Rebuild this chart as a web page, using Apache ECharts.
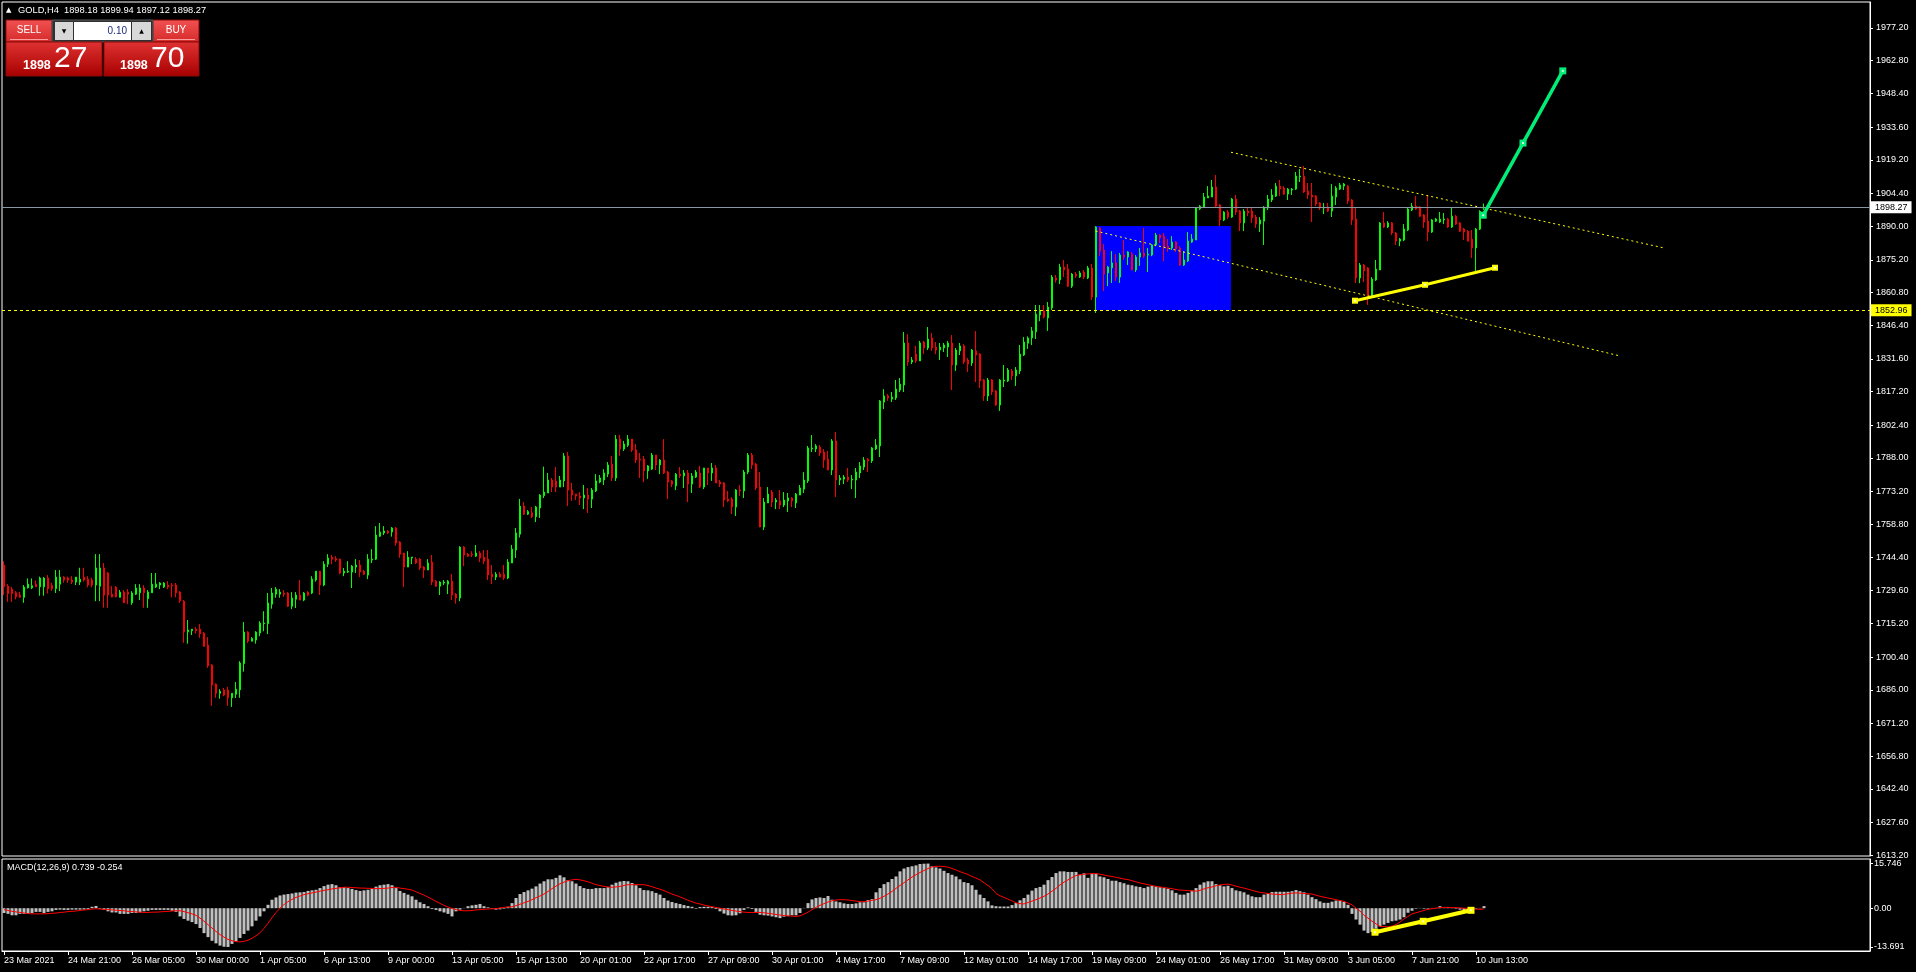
<!DOCTYPE html>
<html><head><meta charset="utf-8">
<script src="https://cdn.jsdelivr.net/npm/echarts@6/dist/echarts.min.js"></script>
<style>html,body{margin:0;padding:0;background:#000;overflow:hidden}#c{width:1916px;height:972px}</style>
</head><body><div id="c"></div>
<script>
// ---------------- data ----------------
const symbolName = 'GOLD,H4';
const headerOHLC = ['1898.18', '1899.94', '1897.12', '1898.27'];
const macdTitle = 'MACD(12,26,9) 0.739 -0.254';
const lotSize = '0.10';
const sellBig = '1898', sellSmall = '27', buyBig = '1898', buySmall = '70';

const open = [
1740.9,1731.6,1730.3,1728.7,1727.7,1726.7,1730.9,1730.9,1732.5,1731.3,
1731.3,1735.2,1731.9,1730.5,1732.5,1735.6,1735.2,1734.3,1733.4,1733.4,
1735.6,1734.7,1734.3,1732.1,1731.6,1739.6,1737.4,1728.1,1731.2,1726.7,
1729.0,1729.0,1724.3,1728.1,1728.7,1730.8,1726.1,1728.7,1731.2,1732.1,
1731.2,1732.1,1732.1,1732.1,1729.0,1725.0,1711.5,1712.0,1712.7,1712.7,
1710.9,1705.7,1696.9,1688.5,1684.5,1685.9,1685.9,1682.5,1684.1,1686.0,
1697.5,1711.4,1707.4,1707.9,1711.0,1715.1,1715.1,1723.7,1728.1,1728.1,
1728.6,1728.6,1722.8,1725.9,1727.7,1725.5,1729.0,1728.6,1734.3,1738.2,
1732.1,1741.3,1744.4,1743.7,1743.5,1737.4,1737.8,1737.8,1740.0,1740.9,
1738.2,1736.5,1743.1,1743.5,1753.6,1755.0,1755.9,1755.4,1757.2,1751.0,
1746.2,1740.0,1744.0,1743.5,1743.5,1740.0,1738.7,1742.2,1733.8,1731.6,
1733.0,1732.5,1733.8,1728.1,1726.4,1748.8,1745.7,1745.7,1744.8,1746.2,
1744.4,1743.5,1736.9,1735.6,1736.9,1736.9,1735.2,1741.8,1747.5,1754.5,
1766.9,1763.3,1763.9,1762.2,1766.0,1771.4,1772.6,1778.3,1777.9,1775.2,
1777.9,1788.9,1773.9,1772.1,1771.3,1770.4,1771.7,1769.9,1773.5,1777.4,
1778.3,1780.9,1785.3,1779.2,1796.3,1791.9,1793.6,1796.3,1791.5,1787.5,
1787.5,1782.3,1783.1,1789.3,1784.9,1787.1,1781.8,1777.9,1775.7,1780.9,
1780.1,1781.4,1776.5,1779.6,1781.4,1775.2,1783.6,1781.4,1783.6,1777.4,
1777.0,1769.9,1769.9,1766.4,1773.9,1773.5,1781.8,1789.3,1785.3,1775.2,
1757.6,1768.2,1773.0,1768.6,1769.1,1767.3,1769.1,1770.4,1768.2,1771.7,
1774.3,1777.9,1792.0,1792.0,1792.8,1790.6,1787.5,1782.7,1795.5,1778.3,
1778.7,1779.6,1778.3,1778.3,1781.4,1784.0,1787.5,1786.7,1792.0,1793.3,
1812.6,1815.3,1813.9,1814.4,1817.9,1820.1,1838.6,1830.2,1833.7,1830.7,
1839.0,1836.4,1840.8,1836.8,1835.5,1836.4,1836.8,1838.6,1828.9,1835.1,
1837.3,1831.1,1829.8,1835.1,1833.7,1822.3,1815.3,1822.3,1817.5,1811.3,
1821.9,1821.9,1826.3,1824.1,1826.3,1833.3,1838.5,1840.8,1843.5,1850.9,
1852.7,1849.6,1854.0,1867.2,1866.3,1872.0,1871.1,1863.6,1868.9,1867.6,
1869.8,1867.2,1871.6,1858.8,1889.2,1879.5,1869.4,1871.6,1873.8,1867.6,
1877.3,1876.4,1877.7,1870.7,1876.4,1878.2,1877.3,1877.3,1881.7,1886.1,
1885.6,1881.2,1880.4,1883.0,1880.4,1872.9,1874.7,1883.0,1883.9,1897.6,
1898.4,1902.4,1902.8,1907.2,1899.3,1892.7,1896.2,1894.0,1901.9,1896.6,
1891.4,1896.6,1896.6,1894.0,1890.9,1892.2,1898.0,1901.5,1903.2,1907.6,
1906.8,1904.1,1905.9,1906.3,1911.6,1912.0,1905.4,1903.7,1903.2,1900.2,
1898.0,1898.4,1896.6,1902.8,1906.3,1907.6,1907.6,1901.5,1893.1,1867.2,
1872.9,1871.6,1859.3,1866.3,1870.7,1891.4,1889.6,1891.4,1887.0,1883.4,
1883.9,1888.3,1897.1,1898.8,1898.4,1894.9,1892.2,1887.4,1892.2,1891.8,
1892.7,1893.1,1889.6,1894.4,1891.4,1888.7,1887.8,1884.3,1880.4,1888.7,
1898.18];
const high = [
1742.6,1732.5,1731.3,1729.4,1729.1,1732.1,1735.0,1735.0,1734.1,1735.8,
1735.6,1736.5,1733.1,1738.7,1738.7,1736.0,1735.8,1736.0,1735.6,1739.7,
1739.7,1736.0,1735.3,1745.7,1745.7,1741.8,1737.8,1731.6,1731.6,1729.9,
1729.9,1730.3,1729.4,1732.5,1732.5,1732.1,1729.9,1737.4,1737.4,1733.4,
1733.4,1733.8,1733.0,1733.0,1729.4,1725.5,1716.7,1712.7,1713.6,1714.9,
1711.4,1709.2,1697.3,1688.8,1686.3,1686.8,1687.3,1684.5,1689.4,1698.6,
1715.8,1711.8,1709.2,1711.8,1716.2,1720.6,1728.6,1730.8,1731.2,1730.3,
1729.9,1729.0,1729.0,1729.0,1734.3,1729.0,1729.4,1736.0,1738.2,1738.2,
1742.6,1745.7,1745.3,1744.8,1743.7,1739.6,1742.6,1740.9,1743.5,1743.1,
1738.7,1745.7,1747.9,1758.0,1759.4,1758.0,1756.3,1757.6,1757.6,1751.4,
1746.2,1747.0,1744.4,1744.4,1744.0,1740.4,1743.5,1745.3,1734.3,1733.8,
1734.3,1734.3,1736.9,1728.6,1749.2,1749.2,1746.2,1747.0,1749.7,1747.0,
1747.5,1747.5,1740.9,1737.8,1737.8,1740.9,1743.5,1749.7,1757.2,1770.0,
1768.6,1765.1,1766.4,1766.9,1772.1,1784.2,1781.4,1779.2,1784.0,1780.1,
1790.2,1790.6,1777.0,1772.1,1773.0,1776.1,1774.8,1774.8,1780.9,1780.5,
1783.1,1786.2,1788.9,1798.1,1798.1,1795.5,1798.1,1796.3,1794.1,1790.2,
1788.9,1784.9,1790.2,1789.3,1787.5,1796.3,1782.3,1778.3,1781.4,1784.0,
1782.7,1782.7,1781.4,1782.7,1784.5,1783.6,1783.6,1785.8,1784.9,1778.3,
1777.4,1773.5,1770.8,1774.3,1776.1,1782.7,1790.2,1790.2,1785.8,1781.8,
1770.4,1775.2,1773.9,1770.4,1773.9,1773.0,1772.6,1770.8,1772.6,1776.1,
1781.8,1793.3,1798.1,1794.1,1793.7,1791.9,1791.1,1796.3,1799.4,1780.5,
1780.5,1783.6,1780.5,1783.6,1786.2,1788.4,1788.0,1792.8,1796.3,1813.5,
1818.3,1816.1,1817.0,1822.3,1823.2,1843.4,1842.5,1832.4,1837.3,1839.5,
1839.5,1845.6,1843.0,1839.0,1838.6,1838.6,1839.5,1842.1,1836.4,1838.6,
1838.1,1832.0,1835.9,1843.8,1834.2,1822.7,1823.2,1822.7,1817.9,1822.7,
1828.9,1827.6,1827.2,1828.0,1837.7,1841.2,1841.5,1845.6,1855.3,1855.3,
1855.3,1856.6,1868.5,1868.5,1873.4,1875.1,1873.4,1869.4,1869.8,1870.3,
1870.7,1872.5,1873.4,1890.0,1889.6,1882.1,1872.5,1879.0,1877.7,1878.2,
1883.9,1879.0,1878.6,1877.3,1880.4,1889.2,1880.4,1882.1,1887.0,1886.5,
1887.0,1884.3,1885.6,1883.4,1881.2,1879.0,1887.4,1886.5,1898.4,1899.3,
1904.6,1907.6,1910.3,1912.5,1899.7,1896.6,1897.1,1902.4,1903.7,1897.1,
1897.5,1898.0,1898.0,1894.9,1894.0,1898.8,1903.7,1906.3,1909.0,1910.3,
1907.6,1906.8,1906.8,1913.8,1915.1,1916.4,1909.0,1909.0,1903.7,1900.6,
1900.2,1900.2,1908.5,1907.6,1909.0,1909.0,1908.1,1901.9,1898.0,1873.8,
1873.4,1872.0,1867.6,1875.1,1891.8,1896.2,1892.2,1891.8,1887.4,1884.8,
1890.9,1898.0,1900.2,1903.2,1898.8,1895.3,1903.7,1893.1,1893.6,1896.2,
1895.8,1893.6,1898.4,1894.9,1891.8,1889.2,1888.3,1888.3,1889.2,1897.0,
1899.94];
const low = [
1727.7,1724.7,1724.7,1725.8,1726.6,1724.3,1730.6,1730.3,1731.3,1727.4,
1727.4,1728.4,1729.6,1728.6,1729.4,1733.1,1733.1,1732.5,1732.1,1732.1,
1733.6,1731.1,1731.1,1725.0,1725.0,1722.1,1722.1,1726.7,1726.7,1726.7,
1724.3,1723.7,1723.4,1727.7,1725.5,1722.1,1722.1,1728.7,1730.8,1730.3,
1730.8,1730.3,1726.7,1726.7,1724.3,1706.7,1706.3,1710.1,1710.8,1708.9,
1704.9,1695.7,1679.0,1682.5,1682.1,1683.2,1679.0,1678.5,1682.4,1682.5,
1694.0,1706.6,1707.4,1706.3,1709.6,1711.8,1710.5,1721.7,1726.5,1726.5,
1726.9,1722.4,1721.5,1722.0,1725.5,1725.0,1727.2,1728.1,1733.6,1727.8,
1731.6,1740.0,1741.3,1742.3,1736.9,1736.0,1737.4,1730.8,1737.4,1735.6,
1736.5,1734.7,1741.8,1743.1,1753.3,1754.1,1754.5,1753.4,1749.4,1744.1,
1731.2,1740.0,1741.3,1741.3,1738.7,1735.2,1738.7,1732.1,1731.3,1727.7,
1732.1,1728.1,1725.5,1723.9,1725.0,1740.4,1744.4,1744.4,1744.4,1742.2,
1741.3,1734.3,1732.5,1734.3,1735.6,1734.3,1734.7,1741.8,1744.0,1753.0,
1762.9,1762.9,1761.6,1759.8,1761.6,1770.4,1772.6,1773.0,1773.0,1775.2,
1775.2,1766.9,1769.1,1769.5,1767.3,1765.5,1763.8,1766.0,1773.0,1776.9,
1776.1,1779.6,1777.9,1777.9,1788.9,1791.1,1792.8,1790.6,1785.8,1779.2,
1777.4,1778.8,1782.7,1782.7,1780.9,1780.9,1769.9,1775.2,1773.9,1779.2,
1774.8,1768.6,1772.6,1779.2,1774.8,1774.3,1776.1,1777.9,1777.0,1775.2,
1766.4,1768.6,1763.3,1762.5,1771.3,1770.4,1780.9,1783.1,1773.9,1757.6,
1756.3,1768.2,1766.4,1765.5,1765.5,1766.4,1764.2,1766.4,1766.0,1771.7,
1772.6,1777.0,1790.6,1790.6,1788.9,1783.6,1782.7,1780.5,1770.8,1776.1,
1776.5,1777.4,1774.3,1770.4,1779.2,1782.7,1781.8,1785.8,1791.5,1788.4,
1809.5,1813.1,1812.6,1813.5,1817.0,1817.0,1828.5,1829.3,1829.8,1830.7,
1833.7,1835.5,1835.1,1833.7,1831.1,1834.6,1832.4,1817.9,1826.3,1833.3,
1829.3,1825.8,1828.5,1821.4,1818.8,1813.1,1813.1,1815.7,1810.9,1808.7,
1819.2,1821.4,1822.3,1819.7,1824.9,1832.9,1836.0,1837.7,1840.3,1848.2,
1849.4,1843.9,1853.1,1865.1,1864.5,1867.6,1863.2,1862.8,1867.2,1867.2,
1866.7,1866.7,1857.5,1851.8,1876.8,1861.4,1863.6,1865.0,1865.9,1865.0,
1875.1,1872.9,1870.7,1869.8,1872.5,1876.0,1869.8,1876.8,1881.2,1882.6,
1874.6,1878.6,1879.5,1878.6,1872.5,1872.5,1874.2,1882.6,1883.9,1897.1,
1898.0,1902.4,1902.8,1898.4,1890.1,1892.2,1893.1,1893.6,1894.9,1887.8,
1887.8,1894.4,1891.4,1889.2,1887.4,1881.7,1897.1,1900.6,1902.8,1903.2,
1903.7,1901.5,1903.7,1905.9,1909.4,1904.6,1901.9,1891.8,1898.8,1897.1,
1895.3,1896.2,1894.0,1899.3,1905.9,1905.9,1899.7,1890.5,1864.9,1864.9,
1865.4,1855.3,1858.8,1865.9,1870.7,1889.2,1889.2,1886.1,1881.7,1881.2,
1883.4,1887.8,1896.6,1897.1,1894.0,1889.2,1883.4,1887.0,1891.8,1891.4,
1890.9,1889.2,1889.2,1890.5,1887.4,1883.9,1883.4,1876.0,1869.8,1888.3,
1897.12];
const close = [
1731.3,1728.4,1728.4,1726.9,1726.7,1731.2,1732.5,1731.8,1731.3,1735.2,
1735.2,1730.5,1730.5,1735.6,1735.6,1734.3,1734.3,1733.4,1735.6,1734.7,
1734.3,1732.1,1732.1,1739.6,1739.6,1727.7,1727.7,1726.9,1726.9,1729.0,
1724.3,1728.1,1728.6,1730.8,1730.8,1728.7,1729.0,1732.5,1732.5,1733.0,
1733.0,1731.2,1731.8,1728.7,1725.2,1711.5,1712.3,1712.7,1712.0,1710.7,
1705.2,1696.6,1688.1,1684.5,1685.4,1683.7,1682.5,1684.5,1686.3,1697.8,
1711.4,1707.4,1708.6,1711.4,1715.4,1715.4,1724.2,1728.6,1730.3,1729.0,
1728.1,1722.8,1726.4,1727.7,1725.5,1728.6,1727.7,1734.7,1738.2,1732.1,
1741.3,1744.0,1743.5,1743.1,1737.4,1738.2,1738.2,1740.4,1740.9,1737.8,
1736.9,1743.5,1743.5,1754.1,1755.4,1755.9,1755.0,1757.2,1750.6,1745.7,
1740.0,1744.4,1744.4,1741.8,1739.6,1738.7,1741.8,1733.4,1731.6,1733.4,
1733.4,1733.8,1727.7,1726.4,1748.8,1745.3,1744.8,1745.3,1746.2,1744.0,
1742.6,1736.5,1735.6,1736.9,1735.6,1735.2,1742.2,1747.9,1755.0,1766.8,
1763.3,1764.4,1762.2,1766.4,1771.7,1773.0,1778.3,1775.2,1775.2,1778.3,
1788.9,1773.9,1771.7,1771.3,1770.4,1771.7,1769.9,1773.9,1777.9,1779.2,
1781.4,1784.9,1779.2,1796.3,1791.9,1794.1,1796.3,1791.5,1787.1,1787.1,
1782.3,1784.5,1789.3,1784.9,1787.1,1781.4,1777.4,1776.5,1780.9,1780.1,
1781.4,1776.5,1780.1,1781.8,1775.2,1783.6,1781.4,1783.6,1777.0,1776.5,
1769.5,1769.1,1766.4,1773.9,1773.5,1781.8,1789.3,1784.9,1774.8,1757.6,
1768.6,1772.1,1768.6,1769.5,1767.3,1769.5,1770.4,1769.1,1772.1,1774.8,
1778.3,1792.4,1792.4,1793.3,1790.2,1787.1,1782.7,1795.5,1778.3,1779.2,
1779.6,1778.3,1778.7,1781.8,1784.5,1787.1,1786.7,1792.4,1793.7,1813.1,
1815.3,1814.4,1814.8,1818.3,1820.5,1838.6,1830.2,1831.1,1830.7,1838.6,
1836.4,1840.3,1836.4,1835.5,1836.8,1837.7,1838.6,1828.9,1835.5,1837.3,
1830.2,1829.3,1835.5,1833.3,1821.9,1815.3,1822.3,1817.0,1811.3,1822.3,
1822.3,1826.7,1824.1,1826.7,1833.7,1839.0,1840.8,1843.9,1851.3,1852.7,
1850.0,1854.4,1867.6,1866.3,1872.0,1870.7,1863.6,1868.9,1868.1,1869.4,
1867.6,1871.6,1858.8,1889.6,1879.0,1868.9,1872.0,1873.8,1867.6,1877.3,
1876.4,1878.6,1870.7,1876.4,1878.2,1876.8,1877.7,1881.7,1886.1,1884.8,
1880.8,1880.4,1883.0,1880.0,1872.9,1875.1,1883.4,1884.3,1898.0,1898.8,
1902.8,1903.2,1907.2,1898.8,1892.7,1896.2,1894.0,1901.9,1896.2,1891.4,
1896.6,1895.8,1893.6,1890.9,1892.7,1898.4,1901.9,1903.7,1907.6,1906.3,
1904.1,1906.3,1906.3,1912.0,1912.0,1905.0,1903.7,1902.8,1899.7,1898.0,
1898.4,1896.6,1903.2,1906.8,1908.1,1908.5,1901.0,1892.7,1867.2,1872.9,
1870.3,1859.3,1866.7,1871.1,1891.4,1889.6,1891.4,1887.0,1883.4,1884.3,
1888.7,1897.5,1898.8,1897.5,1894.4,1891.8,1887.4,1892.7,1893.1,1893.1,
1893.1,1889.6,1894.4,1890.9,1887.8,1887.4,1883.4,1880.4,1888.7,1896.5,
1898.27];

const macdMain = [
-1.7,-2.0,-2.5,-2.5,-2.0,-2.0,-2.0,-1.7,-1.3,-1.3,
-1.7,-1.3,-1.1,-0.6,-0.5,-0.6,-0.6,-0.5,-0.5,-0.5,
-0.5,-0.3,0.5,0.8,-0.2,-0.6,-1.1,-1.5,-1.5,-2.0,
-2.0,-2.0,-1.7,-1.7,-1.5,-1.1,-0.9,-0.6,-0.6,-0.6,
-0.6,-0.6,-0.9,-1.3,-2.9,-3.8,-4.4,-4.9,-5.6,-7.0,
-8.8,-10.2,-11.5,-12.4,-13.2,-13.6,-13.691,-12.6,-11.7,-10.5,
-9.1,-7.9,-6.4,-4.4,-2.9,-1.1,1.2,3.0,3.8,4.5,
4.8,5.0,5.2,5.5,5.6,5.7,6.1,6.3,6.5,7.1,
7.8,8.3,8.5,8.1,7.4,7.4,7.1,6.8,6.4,6.1,
6.3,6.5,6.9,7.6,8.1,8.3,8.5,8.1,7.1,6.1,
5.4,4.8,4.2,3.0,2.1,1.5,0.7,-0.3,-0.6,-1.1,
-1.5,-2.0,-2.9,-1.1,-0.5,0.1,0.7,1.0,1.2,1.5,
0.7,0.3,-0.2,-0.5,
-0.4,-0.2,0.5,1.8,3.6,5.0,5.7,6.3,6.9,7.7,
8.7,9.5,10.2,10.2,10.7,11.6,10.9,9.9,9.5,8.7,
7.8,7.1,6.8,6.8,7.1,7.1,7.1,7.4,8.3,9.0,
9.4,9.6,9.5,8.9,8.1,7.1,6.4,6.3,6.0,5.4,
4.8,3.6,2.7,2.2,1.8,1.5,1.1,0.8,0.5,-0.2,
0.4,0.5,0.5,0.4,-0.3,-1.1,-1.9,-2.5,-2.6,-2.5,
-1.8,-0.6,0.3,-0.3,-1.3,-2.3,-2.5,-2.6,-2.9,-3.2,
-3.5,-3.0,-2.8,-2.5,-2.5,-1.7,0.1,1.8,3.1,3.6,
3.8,3.6,4.3,3.0,2.4,2.1,1.7,1.5,1.5,1.7,
2.1,2.1,2.9,3.2,5.6,7.1,8.5,9.2,10.3,11.2,
13.0,14.0,14.5,14.8,15.1,15.6,15.7,15.746,14.8,14.4,
14.0,13.2,12.4,11.8,11.2,10.2,9.2,8.9,8.1,6.5,
4.8,3.6,2.4,1.0,0.7,
0.6,0.6,0.6,1.1,1.8,2.8,3.6,4.8,6.2,7.1,
7.5,8.3,9.9,11.0,12.4,13.0,13.0,12.8,12.8,12.8,
11.8,12.3,10.7,12.2,12.2,11.2,10.9,10.3,9.7,9.7,
9.2,8.8,8.3,8.1,7.7,7.5,7.1,7.6,7.9,7.7,
7.4,7.1,6.9,6.3,5.4,4.8,4.8,5.4,6.2,7.1,
8.3,9.1,9.5,9.5,8.5,8.1,7.7,7.9,7.1,6.3,
6.0,5.6,4.8,4.2,3.9,3.9,4.8,5.2,5.7,5.8,
5.8,5.8,5.8,6.0,6.4,6.0,5.6,4.8,3.9,3.2,
2.4,1.9,1.9,2.3,2.7,2.7,2.2,1.2,-2.0,-4.0,
-5.8,-7.9,-8.8,-8.4,-7.2,-6.4,-5.8,-5.2,-4.6,-4.4,
-4.0,-3.2,-1.6,-0.9,-0.2,0.1,-0.2,-0.2,0.1,0.1,
0.7,0.1,0.4,0.1,-0.2,-0.5,-0.9,-1.1,-0.9,-0.2,
0.1,0.739];
const macdSignal = [
-0.5,-0.8,-1.1,-1.3,-1.5,-1.7,-1.9,-2.0,-2.0,-2.0,
-2.0,-1.9,-1.8,-1.7,-1.5,-1.4,-1.2,-1.1,-1.0,-0.8,
-0.6,-0.5,-0.3,-0.2,-0.3,-0.4,-0.5,-0.6,-0.7,-0.8,
-0.9,-1.1,-1.2,-1.3,-1.4,-1.5,-1.5,-1.4,-1.4,-1.3,
-1.2,-1.1,-1.0,-0.9,-0.9,-1.2,-1.6,-2.0,-2.5,-3.5,
-4.6,-5.8,-7.0,-8.2,-9.3,-10.2,-11.0,-11.5,-11.8,-11.9,
-11.7,-11.3,-10.6,-9.7,-8.7,-7.1,-5.3,-3.4,-1.5,0.0,
1.3,2.3,3.1,3.8,4.3,4.8,5.1,5.4,5.7,6.0,
6.3,6.5,6.8,7.0,7.2,7.4,7.4,7.3,7.2,7.1,
7.1,7.0,7.0,6.9,6.9,7.0,7.1,7.3,7.4,7.1,
6.9,6.7,6.4,5.8,5.2,4.6,3.9,3.2,2.4,1.7,
1.0,0.4,-0.1,-0.5,-0.8,-0.9,-0.9,-0.8,-0.6,-0.5,
-0.4,-0.3,-0.2,-0.2,
0.1,0.3,0.4,0.5,0.9,1.4,1.9,2.4,3.0,3.7,
4.3,5.0,5.9,6.9,7.8,8.6,9.2,9.7,10.0,10.2,
10.0,9.7,9.3,8.8,8.3,8.0,7.7,7.5,7.4,7.5,
7.7,8.0,8.3,8.3,8.3,8.3,8.3,8.0,7.6,7.1,
6.7,6.2,5.6,5.0,4.5,4.0,3.4,2.8,2.3,1.8,
1.5,1.1,0.8,0.5,0.3,0.0,-0.3,-0.5,-0.8,-1.0,
-1.2,-1.4,-1.5,-1.5,-1.5,-1.5,-1.6,-1.8,-2.0,-2.2,
-2.4,-2.6,-2.7,-2.8,-2.9,-2.7,-2.1,-1.4,-0.5,0.3,
1.0,1.6,2.2,2.6,2.9,3.0,3.0,2.9,2.7,2.5,
2.3,2.3,2.5,2.8,3.0,3.5,4.2,5.0,5.9,7.0,
8.0,9.0,10.0,11.0,11.8,12.6,13.3,14.0,14.6,14.8,
14.8,14.7,14.5,14.0,13.5,12.9,12.4,11.9,11.2,10.6,
10.0,9.0,8.0,6.9,5.2,
4.4,3.8,3.2,2.6,1.9,1.6,1.5,2.0,2.5,3.0,
3.6,4.2,5.0,6.0,7.0,8.2,9.2,10.0,10.8,11.5,
11.8,12.0,12.1,12.2,12.2,12.0,11.7,11.4,11.2,10.9,
10.6,10.3,10.1,9.7,9.3,8.9,8.6,8.3,8.0,7.7,
7.5,7.3,7.1,6.9,6.6,6.4,6.3,6.2,6.1,6.0,
6.3,6.8,7.2,7.5,7.9,8.2,8.4,8.5,8.2,7.8,
7.4,7.1,6.7,6.3,5.9,5.6,5.4,5.2,5.0,4.9,
4.8,4.9,5.1,5.3,5.4,5.3,5.2,5.1,5.0,4.6,
4.2,3.9,3.6,3.3,3.0,2.7,2.4,1.8,1.2,0.0,
-1.0,-2.5,-3.5,-4.6,-5.5,-6.4,-6.5,-6.6,-6.3,-5.8,
-4.9,-3.8,-2.9,-2.0,-1.6,-1.2,-0.8,-0.4,-0.2,0.0,
0.2,0.3,0.3,0.2,0.2,0.1,0.0,-0.1,-0.2,-0.3,
-0.4,-0.254];

const priceTicks = [1613.2,1627.6,1642.4,1656.8,1671.2,1686.0,1700.4,1715.2,1729.6,1744.4,1758.8,1773.2,1788.0,
  1802.4,1817.2,1831.6,1846.4,1860.8,1875.2,1890.0,1904.4,1919.2,1933.6,1948.4,1962.8,1977.2];
const macdTicks = [-13.691, 0, 15.746];
const timeTickIndex = [0,16,32,48,64,80,96,112,128,144,160,176,192,208,224,240,256,272,288,304,320,336,352,368];
const timeTickText = ['23 Mar 2021','24 Mar 21:00','26 Mar 05:00','30 Mar 00:00','1 Apr 05:00','6 Apr 13:00',
  '9 Apr 00:00','13 Apr 05:00','15 Apr 13:00','20 Apr 01:00','22 Apr 17:00','27 Apr 09:00','30 Apr 01:00',
  '4 May 17:00','7 May 09:00','12 May 01:00','14 May 17:00','19 May 09:00','24 May 01:00','26 May 17:00',
  '31 May 09:00','3 Jun 05:00','7 Jun 21:00','10 Jun 13:00'];

const bidPrice = 1898.27;
const levelPrice = 1852.96;
const boxRect = [272.9, 306.75, 1890.05, 1852.96];           // bar from, bar to, top price, bottom price
const channelUpper = [[306.75, 1922.5], [415, 1880.4]];
const channelLower = [[272.9, 1887.85], [403.75, 1833.0]];
const supportLine = [[337.75, 1857.2], [355.25, 1864.2], [372.75, 1871.7]];
const projection = [[369.8, 1894.8], [379.75, 1926.55], [389.7, 1958.3]];
const macdTrend = [[342.75, -8.47], [354.8, -4.62], [366.75, -0.74]];

// ---------------- chart ----------------
const N = 467; // bar slots across the plot
const slots = Array.from({length: N}, (_, i) => String(i));
const candles = open.map((o, i) => [o, close[i], low[i], high[i]]);
const tickSet = new Set(timeTickIndex);
const FONT = 'Liberation Sans';
const chart = echarts.init(document.getElementById('c'), null, {renderer: 'canvas'});

const redGrad = () => new echarts.graphic.LinearGradient(0, 0, 0, 1, [
  {offset: 0, color: '#e03232'}, {offset: 1, color: '#a60000'}]);
const btnGrad = () => new echarts.graphic.LinearGradient(0, 0, 0, 1, [
  {offset: 0, color: '#f25252'}, {offset: 1, color: '#d42a2a'}]);
const hiddenX = (g) => ({type: 'value', gridIndex: g, min: -0.5, max: N - 0.5, show: false,
  axisLine: {show: false, onZero: false}, axisTick: {show: false}, axisLabel: {show: false}, splitLine: {show: false}});

const option = {
  backgroundColor: '#000000',
  animation: false,
  grid: [
    {left: 2, top: 2, width: 1868, height: 854, show: true, borderColor: '#ffffff', borderWidth: 1},
    {left: 2, top: 859, width: 1868, height: 92, show: true, borderColor: '#ffffff', borderWidth: 1}
  ],
  xAxis: [
    {type: 'category', gridIndex: 0, data: slots, boundaryGap: true, show: false,
      axisLine: {show: false, onZero: false}},
    {type: 'category', gridIndex: 1, data: slots, boundaryGap: true, position: 'bottom',
      axisLine: {show: true, onZero: false, lineStyle: {color: '#ffffff', width: 1}},
      axisTick: {show: true, alignWithLabel: true, interval: (i) => tickSet.has(i), length: 4,
        lineStyle: {color: '#ffffff'}},
      axisLabel: {show: true, interval: (i) => tickSet.has(i),
        formatter: (v, i) => timeTickText[timeTickIndex.indexOf(i)],
        color: '#ffffff', fontSize: 9, fontFamily: FONT, align: 'left', margin: 5},
      splitLine: {show: false}},
    hiddenX(0),
    hiddenX(1)
  ],
  yAxis: [
    {type: 'value', gridIndex: 0, position: 'right', min: 1612.9, max: 1988.6,
      splitLine: {show: false},
      axisLine: {show: true, onZero: false, lineStyle: {color: '#ffffff'}},
      axisTick: {show: true, customValues: priceTicks, length: 3, lineStyle: {color: '#ffffff'}},
      axisLabel: {show: true, customValues: priceTicks, formatter: (v) => v.toFixed(2),
        color: '#ffffff', fontSize: 9, fontFamily: FONT, margin: 6}},
    {type: 'value', gridIndex: 1, position: 'right', min: -15.1, max: 17.36,
      splitLine: {show: false},
      axisLine: {show: true, onZero: false, lineStyle: {color: '#ffffff'}},
      axisTick: {show: true, customValues: macdTicks, length: 3, lineStyle: {color: '#ffffff'}},
      axisLabel: {show: true, customValues: macdTicks,
        formatter: (v) => (Math.abs(v) < 1e-9 ? '0.00' : v.toFixed(3)),
        color: '#ffffff', fontSize: 9, fontFamily: FONT, margin: 4}}
  ],
  series: [
    {type: 'custom', name: 'zone', xAxisIndex: 2, yAxisIndex: 0, z: 1, silent: true,
      data: [boxRect],
      renderItem: (params, api) => {
        const p1 = api.coord([api.value(0), api.value(2)]);
        const p2 = api.coord([api.value(1), api.value(3)]);
        return {type: 'rect', shape: {x: p1[0], y: p1[1], width: p2[0] - p1[0], height: p2[1] - p1[1]},
          style: {fill: '#0000ff'}};
      }},
    {type: 'candlestick', name: 'GOLD', xAxisIndex: 0, yAxisIndex: 0, z: 2, silent: true,
      data: candles, barWidth: 2,
      itemStyle: {color: '#00ff00', color0: '#ff0000', borderColor: '#00ff00', borderColor0: '#ff0000',
        borderWidth: 1},
      markLine: {silent: true, symbol: ['none', 'none'], animation: false, precision: 2,
        data: [
          {yAxis: bidPrice, lineStyle: {color: '#8a96a3', width: 1, type: 'solid'},
            label: {show: true, position: 'end', formatter: bidPrice.toFixed(2), color: '#000000',
              backgroundColor: '#ffffff', padding: [2, 4, 1, 4], fontSize: 9, fontFamily: FONT, distance: 1}},
          {yAxis: levelPrice, lineStyle: {color: '#ffff00', width: 1, type: [3, 3]},
            label: {show: true, position: 'end', formatter: levelPrice.toFixed(2), color: '#000000',
              backgroundColor: '#ffff00', padding: [2, 4, 1, 4], fontSize: 9, fontFamily: FONT, distance: 1}}
        ]}},
    {type: 'line', name: 'chUp', xAxisIndex: 2, yAxisIndex: 0, z: 4, silent: true, symbol: 'none',
      data: channelUpper, lineStyle: {color: '#ffff00', width: 1, type: [2, 3]}},
    {type: 'line', name: 'chDn', xAxisIndex: 2, yAxisIndex: 0, z: 4, silent: true, symbol: 'none',
      data: channelLower, lineStyle: {color: '#ffff00', width: 1, type: [2, 3]}},
    {type: 'line', name: 'support', xAxisIndex: 2, yAxisIndex: 0, z: 5, silent: true,
      symbol: 'rect', symbolSize: 6, showAllSymbol: true, data: supportLine,
      lineStyle: {color: '#ffff00', width: 3}, itemStyle: {color: '#ffff00'}},
    {type: 'line', name: 'projection', xAxisIndex: 2, yAxisIndex: 0, z: 5, silent: true,
      symbol: 'rect', symbolSize: 7, showAllSymbol: true, data: projection,
      lineStyle: {color: '#00ee78', width: 3.5}, itemStyle: {color: '#00ee78'}},
    {type: 'scatter', name: 'anchors', xAxisIndex: 2, yAxisIndex: 0, z: 6, silent: true,
      symbol: 'rect', symbolSize: 2, data: supportLine.concat(projection), itemStyle: {color: '#ffffff'}},
    {type: 'bar', name: 'MACD', xAxisIndex: 1, yAxisIndex: 1, z: 2, silent: true,
      data: macdMain, barWidth: 3, itemStyle: {color: '#c0c0c0'}},
    {type: 'line', name: 'Signal', xAxisIndex: 1, yAxisIndex: 1, z: 3, silent: true,
      data: macdSignal, symbol: 'none', lineStyle: {color: '#ff0000', width: 1}},
    {type: 'line', name: 'macdTrend', xAxisIndex: 3, yAxisIndex: 1, z: 5, silent: true,
      symbol: 'rect', symbolSize: 7, showAllSymbol: true, data: macdTrend,
      lineStyle: {color: '#ffff00', width: 4}, itemStyle: {color: '#ffff00'}},
    {type: 'scatter', name: 'macdAnchors', xAxisIndex: 3, yAxisIndex: 1, z: 6, silent: true,
      symbol: 'rect', symbolSize: 2, data: macdTrend, itemStyle: {color: '#ffffff'}}
  ],
  graphic: [
    {type: 'text', x: 6, y: 10, z: 50, style: {text: '\u25B2', fill: '#ffffff', fontSize: 7,
      fontFamily: 'DejaVu Sans', verticalAlign: 'middle'}},
    {type: 'text', x: 18, y: 10, z: 50, style: {text: symbolName + '  ' + headerOHLC.join(' '),
      fill: '#ffffff', fontSize: 9.3, fontFamily: FONT, verticalAlign: 'middle'}},
    // sell / buy header buttons
    {type: 'rect', z: 50, shape: {x: 6, y: 20, width: 46, height: 22}, style: {fill: btnGrad(), stroke: '#8c0a0a', lineWidth: 1}},
    {type: 'line', z: 51, shape: {x1: 10, y1: 39.5, x2: 48, y2: 39.5}, style: {stroke: '#ff9c9c', lineWidth: 1}},
    {type: 'text', x: 29, y: 30, z: 52, style: {text: 'SELL', fill: '#ffffff', fontSize: 10, fontFamily: FONT,
      align: 'center', verticalAlign: 'middle'}},
    {type: 'rect', z: 50, shape: {x: 153, y: 20, width: 46, height: 22}, style: {fill: btnGrad(), stroke: '#8c0a0a', lineWidth: 1}},
    {type: 'line', z: 51, shape: {x1: 157, y1: 39.5, x2: 195, y2: 39.5}, style: {stroke: '#ff9c9c', lineWidth: 1}},
    {type: 'text', x: 176, y: 30, z: 52, style: {text: 'BUY', fill: '#ffffff', fontSize: 10, fontFamily: FONT,
      align: 'center', verticalAlign: 'middle'}},
    // lot size control
    {type: 'rect', z: 50, shape: {x: 52, y: 20, width: 101, height: 22}, style: {fill: '#303030', stroke: '#5a5a5a', lineWidth: 1}},
    {type: 'rect', z: 51, shape: {x: 55, y: 22, width: 18, height: 18}, style: {fill: '#d8d8d8'}},
    {type: 'rect', z: 51, shape: {x: 74, y: 22, width: 57, height: 18}, style: {fill: '#ffffff'}},
    {type: 'rect', z: 51, shape: {x: 132, y: 22, width: 19, height: 18}, style: {fill: '#d8d8d8'}},
    {type: 'text', x: 64, y: 31, z: 52, style: {text: '\u25BC', fill: '#000000', fontSize: 6, fontFamily: 'DejaVu Sans',
      align: 'center', verticalAlign: 'middle'}},
    {type: 'text', x: 141.5, y: 31, z: 52, style: {text: '\u25B2', fill: '#000000', fontSize: 6, fontFamily: 'DejaVu Sans',
      align: 'center', verticalAlign: 'middle'}},
    {type: 'text', x: 127, y: 31, z: 52, style: {text: lotSize, fill: '#1c2a78', fontSize: 10, fontFamily: FONT,
      align: 'right', verticalAlign: 'middle'}},
    // price boxes
    {type: 'rect', z: 50, shape: {x: 6, y: 42, width: 96, height: 34}, style: {fill: redGrad(), stroke: '#8c0a0a', lineWidth: 1}},
    {type: 'rect', z: 50, shape: {x: 104, y: 42, width: 95, height: 34}, style: {fill: redGrad(), stroke: '#8c0a0a', lineWidth: 1}},
    {type: 'text', x: 23, y: 66, z: 52, style: {text: sellBig, fill: '#ffffff', fontSize: 12.5, fontWeight: 'bold',
      fontFamily: FONT, verticalAlign: 'middle'}},
    {type: 'text', x: 54, y: 59, z: 52, style: {text: sellSmall, fill: '#ffffff', fontSize: 30,
      fontFamily: FONT, verticalAlign: 'middle'}},
    {type: 'text', x: 120, y: 66, z: 52, style: {text: buyBig, fill: '#ffffff', fontSize: 12.5, fontWeight: 'bold',
      fontFamily: FONT, verticalAlign: 'middle'}},
    {type: 'text', x: 151, y: 59, z: 52, style: {text: buySmall, fill: '#ffffff', fontSize: 30,
      fontFamily: FONT, verticalAlign: 'middle'}},
    // indicator caption
    {type: 'text', x: 7, y: 868, z: 50, style: {text: macdTitle, fill: '#ffffff', fontSize: 9, fontFamily: FONT,
      verticalAlign: 'middle'}}
  ]
};
chart.setOption(option);
</script>
</body></html>
